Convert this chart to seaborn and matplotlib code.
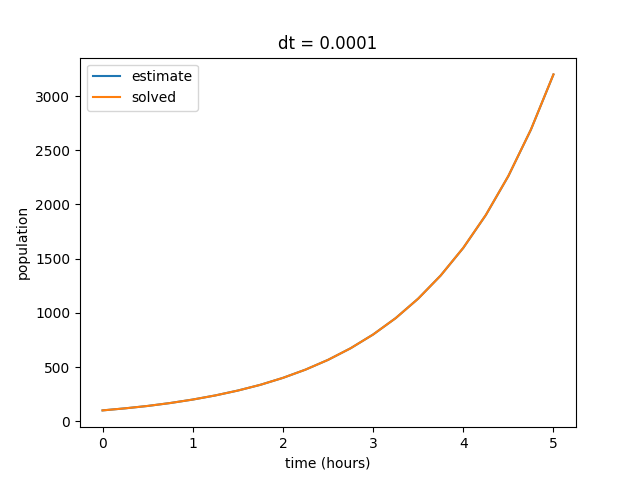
import matplotlib
matplotlib.use("Agg")
import matplotlib.pyplot as plt
import seaborn as sns

time_hours = [0, 0.25, 0.5, 0.75, 1, 1.25, 1.5, 1.75, 2, 2.25, 2.5, 2.75,
              3, 3.25, 3.5, 3.75, 4, 4.25, 4.5, 4.75, 5]
estimate = [100, 119, 141, 168, 200, 238, 283, 336, 400, 476, 566, 673,
            800, 951, 1131, 1345, 1599, 1902, 2262, 2690, 3199]
solved = [100, 119, 141, 168, 200, 238, 283, 336, 400, 476, 566, 673,
          800, 951, 1131, 1345, 1600, 1903, 2263, 2691, 3200]

fig, ax = plt.subplots(figsize=(6.4, 4.8), dpi=100)
sns.lineplot(x=time_hours, y=estimate, label="estimate", color="#1f77b4", ax=ax)
sns.lineplot(x=time_hours, y=solved, label="solved", color="#ff7f0e", ax=ax)
ax.set_title("dt = 0.0001")
ax.set_xlabel("time (hours)")
ax.set_ylabel("population")
ax.legend(loc="upper left")
plt.savefig("out.png")
